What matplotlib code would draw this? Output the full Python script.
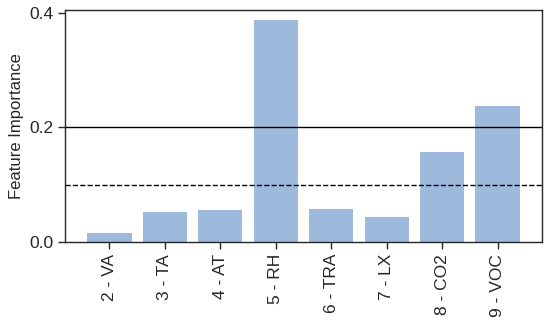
import numpy as np
import matplotlib
matplotlib.use('Agg')
import matplotlib.pyplot as plt

features = ['2 - VA', '3 - TA', '4 - AT', '5 - RH', '6 - TRA', '7 - LX', '8 - CO2', '9 - VOC']
importance = [0.016, 0.052, 0.055, 0.387, 0.057, 0.043, 0.157, 0.237]
solid_level = 0.2
dashed_level = 0.1

plt.rcParams['font.family'] = ['Liberation Sans', 'DejaVu Sans']

fig = plt.figure(figsize=(5.5, 3.24), dpi=100)
ax = fig.add_axes([65 / 550, 1 - 242 / 324, (542 - 65) / 550, (242 - 10) / 324])

x = np.arange(len(features))
ax.bar(x, importance, width=0.8, color='#9db9dc', zorder=1)
ax.axhline(solid_level, color='black', linewidth=1.0, zorder=2)
ax.axhline(dashed_level, color='black', linewidth=1.0, linestyle='--', zorder=2)

ax.set_xlim(-0.8, 7.8)
ax.set_ylim(0, 0.405)
ax.set_yticks([0.0, 0.2, 0.4])
ax.set_yticklabels(['0.0', '0.2', '0.4'])
ax.set_xticks(x)
ax.set_xticklabels(features, rotation=90)
ax.set_ylabel('Feature Importance', fontsize=12, color='0.15')

ax.tick_params(axis='both', direction='out', length=5, width=1, labelsize=12.5,
               colors='0.15')
for s in ax.spines.values():
    s.set_linewidth(1.0)
    s.set_color('0.15')

fig.savefig('out.png', dpi=100)
